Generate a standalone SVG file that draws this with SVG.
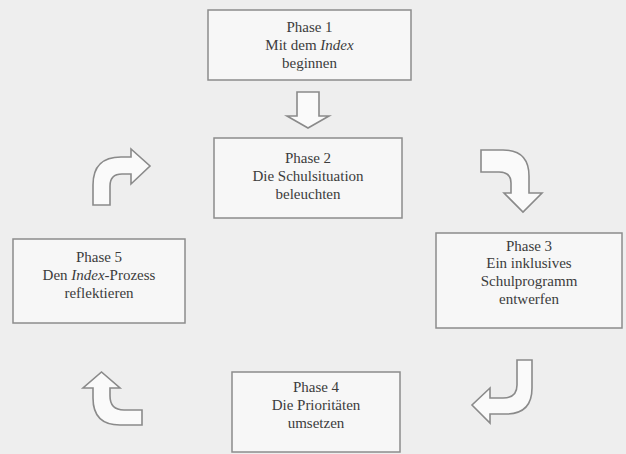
<svg xmlns="http://www.w3.org/2000/svg" width="626" height="454" viewBox="0 0 626 454">
<style>
.bg{fill:#eeeeee}
.box{fill:#f7f7f7;stroke:#8c8c8c;stroke-width:1.5}
.arr{fill:#fafafa;stroke:#8a8a8a;stroke-width:1.6;stroke-linejoin:miter}
.t{font-family:'Liberation Serif','Tinos','Noto Serif','DejaVu Serif',serif;font-size:15px;fill:#3c3c3c;text-anchor:middle}
.i{font-style:italic}
</style>
<rect class="bg" x="0" y="0" width="626" height="454"/>
<g id="phase1">
<rect class="box" x="208" y="10" width="203" height="70"/>
<text class="t" x="309.5" y="32">Phase 1</text>
<text class="t" x="309.5" y="50">Mit dem <tspan class="i">Index</tspan></text>
<text class="t" x="309.5" y="68">beginnen</text>
</g>
<g id="phase2">
<rect class="box" x="214" y="138" width="188" height="80"/>
<text class="t" x="308" y="163">Phase 2</text>
<text class="t" x="308" y="181">Die Schulsituation</text>
<text class="t" x="308" y="199">beleuchten</text>
</g>
<g id="phase3">
<rect class="box" x="436" y="233" width="186" height="95"/>
<text class="t" x="529" y="251">Phase 3</text>
<text class="t" x="529" y="268">Ein inklusives</text>
<text class="t" x="529" y="286">Schulprogramm</text>
<text class="t" x="529" y="304">entwerfen</text>
</g>
<g id="phase4">
<rect class="box" x="232" y="372" width="168" height="80"/>
<text class="t" x="316" y="392">Phase 4</text>
<text class="t" x="316" y="410">Die Prioritäten</text>
<text class="t" x="316" y="428">umsetzen</text>
</g>
<g id="phase5">
<rect class="box" x="13" y="239" width="172" height="84"/>
<text class="t" x="99" y="262">Phase 5</text>
<text class="t" x="99" y="280">Den <tspan class="i">Index</tspan>-Prozess</text>
<text class="t" x="99" y="298">reflektieren</text>
</g>
<g id="connectors">
<path class="arr" d="M297,92 L319,92 L319,116 L329,116 L308,128 L287,116 L297,116 Z"/>
<path class="arr" d="M93,205 L93,185 Q93,157 121,157 L131,157 L131,149 L150,166 L131,184 L131,174 L122,174 Q110,174 110,186 L110,205 Z"/>
<path class="arr" d="M481,150 L503,150 Q529,150 529,176 L529,193 L542,193 L523,212 L504,193 L511,193 L511,183 Q511,172 499,172 L481,172 Z"/>
<path class="arr" d="M517,360 L532,360 L532,388 Q532,414 506,414 L490,414 L490,423 L472,405 L490,388 L490,398 L503,398 Q517,398 517,385 Z"/>
<path class="arr" d="M142,410 L124,410 Q110,410 110,396 L110,388 L120,388 L101.5,372 L83,388 L93,388 L93,398 Q93,425 120,425 L142,425 Z"/>
</g>
</svg>
